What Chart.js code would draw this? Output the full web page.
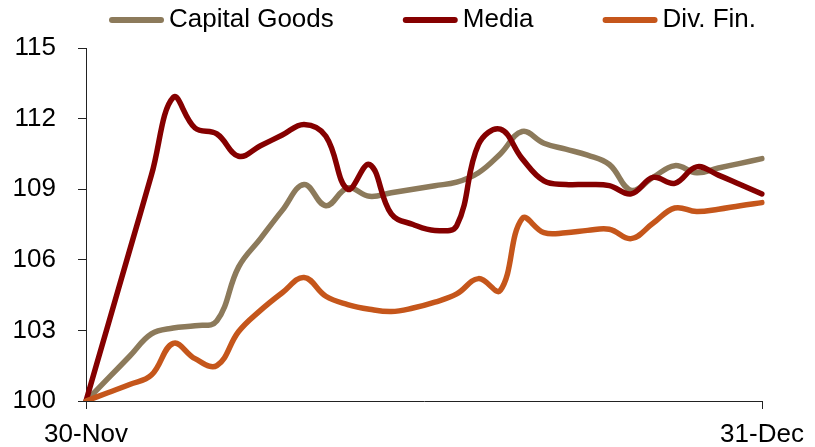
<!DOCTYPE html>
<html>
<head>
<meta charset="utf-8">
<script src="https://cdn.jsdelivr.net/npm/chart.js@4.4.0/dist/chart.umd.min.js"></script>
<style>
  html, body { margin: 0; padding: 0; background: #fff; }
  #wrap { width: 815px; height: 447px; }
</style>
</head>
<body>
<div id="wrap"><canvas id="grafico"></canvas></div>
<script>
/* ---------------- Dados (índice base 100 em 30-Nov) ---------------- */
const DIAS = [
  "30-Nov", "1-Dec", "2-Dec", "3-Dec", "4-Dec", "5-Dec", "6-Dec", "7-Dec",
  "8-Dec", "9-Dec", "10-Dec", "11-Dec", "12-Dec", "13-Dec", "14-Dec", "15-Dec",
  "16-Dec", "17-Dec", "18-Dec", "19-Dec", "20-Dec", "21-Dec", "22-Dec", "23-Dec",
  "24-Dec", "25-Dec", "26-Dec", "27-Dec", "28-Dec", "29-Dec", "30-Dec", "31-Dec",
];
const CAPITAL_GOODS = [
  100, 100.95, 101.9, 102.85, 103.1, 103.2, 103.4, 105.7,
  106.9, 108.1, 109.2, 108.3, 109.05, 108.7, 108.85, 109.0,
  109.15, 109.3, 109.7, 110.5, 111.45, 110.95, 110.7, 110.45,
  110.05, 108.95, 109.5, 110.0, 109.7, 109.9, 110.1, 110.3,
];
const MEDIA = [
  100, 103.2, 106.4, 109.6, 112.9, 111.6, 111.35, 110.4,
  110.85, 111.3, 111.75, 111.25, 109.0, 110.05, 107.95, 107.5,
  107.25, 107.45, 110.9, 111.55, 110.3, 109.35, 109.2, 109.2,
  109.15, 108.8, 109.5, 109.25, 109.95, 109.6, 109.2, 108.8,
];
const DIV_FIN = [
  100, 100.35, 100.7, 101.1, 102.45, 101.8, 101.5, 102.95,
  103.85, 104.6, 105.25, 104.45, 104.1, 103.9, 103.8, 103.95,
  104.2, 104.55, 105.2, 104.7, 107.75, 107.15, 107.15, 107.25,
  107.3, 106.9, 107.55, 108.2, 108.05, 108.15, 108.3, 108.43,
];
const Y_MIN = 100, Y_MAX = 115, Y_PASSO = 3;

const FONTE = "'Liberation Sans', Arial, sans-serif";
const CORES = {
  capital: "#8C7A5B", media: "#850000", divfin: "#C5561B", eixo: "#222222",
};

/* ---------------- Legenda no topo (desenhada no canvas) ---------------- */
const legendaTopo = {
  id: "legendaTopo",
  afterDraw(chart) {
    const ctx = chart.ctx;
    ctx.save();
    ctx.font = "26px " + FONTE;
    ctx.textBaseline = "middle";
    let x = 112;
    const y = 20;
    chart.data.datasets.forEach((ds) => {
      ctx.strokeStyle = ds.borderColor;
      ctx.lineWidth = 6;
      ctx.lineCap = "round";
      ctx.beginPath();
      ctx.moveTo(x, y);
      ctx.lineTo(x + 49, y);
      ctx.stroke();
      ctx.fillStyle = "#000";
      ctx.fillText(ds.label, x + 57, y);
      x += 57 + ctx.measureText(ds.label).width + 72;
    });
    ctx.restore();
  },
};

function serie(label, data, cor, ordem) {
  return { label, data, borderColor: cor, backgroundColor: cor, order: ordem };
}

const ultimo = DIAS.length - 1;
const fonteEixo = { family: FONTE, size: 26 };

new Chart(document.getElementById("grafico"), {
  type: "line",
  data: {
    labels: DIAS,
    datasets: [
      serie("Capital Goods", CAPITAL_GOODS, CORES.capital, 3),
      serie("Media", MEDIA, CORES.media, 2),
      serie("Div. Fin.", DIV_FIN, CORES.divfin, 1),
    ],
  },
  options: {
    responsive: true, maintainAspectRatio: false, animation: false,
    layout: { padding: { top: 48, left: 13, right: 53, bottom: 0 } },
    plugins: { legend: { display: false }, tooltip: { enabled: false } },
    elements: {
      point: { radius: 0 },
      line: { tension: 0.4, borderWidth: 5.5, borderCapStyle: "round", borderJoinStyle: "round" },
    },
    scales: {
      x: {
        afterFit: (s) => { s.height = 46; },
        grid: {
          drawOnChartArea: false, tickLength: 8,
          tickColor: (c) => (c.index === 0 || c.index === ultimo ? CORES.eixo : "transparent"),
        },
        border: { color: CORES.eixo, width: 1 },
        ticks: {
          autoSkip: false, maxRotation: 0, padding: 10, color: "#000", font: fonteEixo,
          callback: (v, i) => (i === 0 || i === ultimo ? DIAS[i] : ""),
        },
      },
      y: {
        min: Y_MIN, max: Y_MAX,
        afterFit: (s) => { s.width = 73; },
        grid: { drawOnChartArea: false, tickLength: 8, tickColor: CORES.eixo },
        border: { color: CORES.eixo, width: 1 },
        ticks: { stepSize: Y_PASSO, padding: 22, color: "#000", font: fonteEixo },
      },
    },
  },
  plugins: [legendaTopo],
});
</script>
</body>
</html>
